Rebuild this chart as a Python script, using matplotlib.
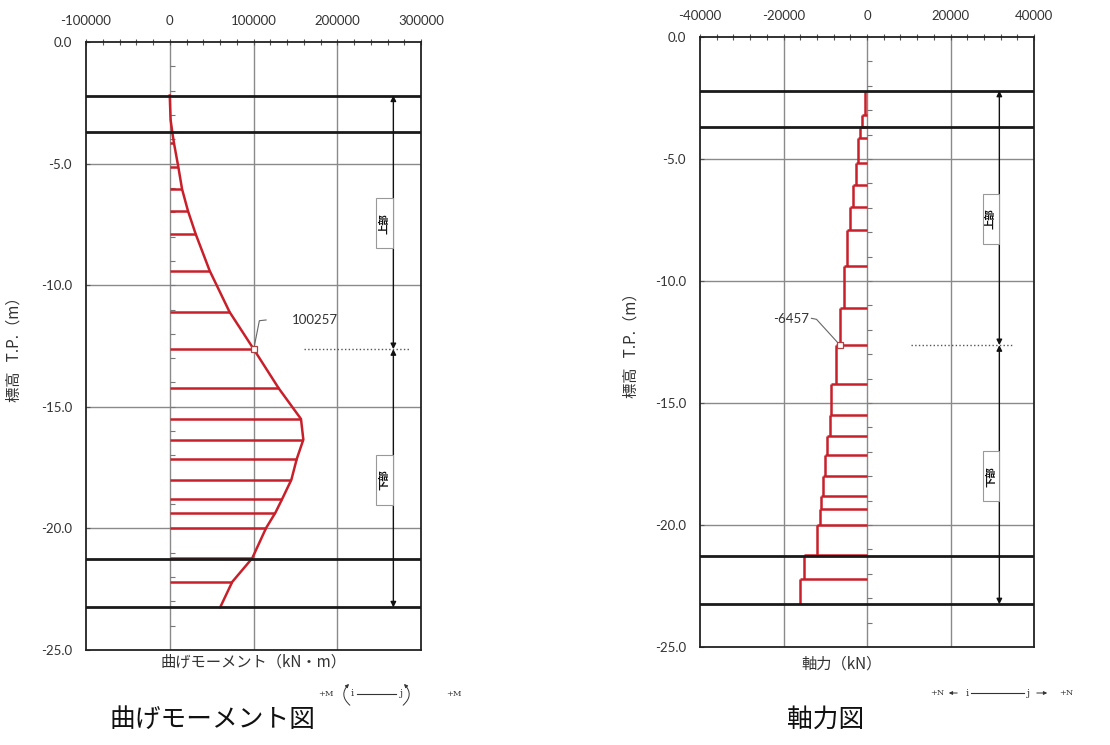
import numpy as np
import matplotlib
matplotlib.use("Agg")
import matplotlib.pyplot as plt
from matplotlib.patches import Rectangle, FancyArrowPatch
from matplotlib.ticker import MultipleLocator, FuncFormatter

plt.rcParams['font.family'] = ['Noto Sans CJK JP', 'DejaVu Sans']

# ---- data -----------------------------------------------------------------
# node elevations T.P. (m)
depth = [-2.2, -3.2, -3.7, -4.15, -5.15, -6.05, -6.95, -7.9, -9.4, -11.1, -12.63,
         -14.24, -15.5, -16.35, -17.15, -18.0, -18.8, -19.35, -19.98, -21.23,
         -22.2, -23.24]
# bending moment at each node (kN·m)
moment = [0, 1000, 3000, 5000, 10300, 14700, 21800, 31000, 47600, 71400, 100257,
          130100, 156700, 159500, 151600, 145200, 134100, 126200, 115100, 98400,
          74600, 60300]
# axial force of each member between consecutive nodes (kN)
axial = [-380, -1100, -1650, -2150, -2540, -3340, -3970, -4780, -5570, -6457,
         -7490, -8520, -8850, -9480, -9950, -10430, -10910, -11240, -11870,
         -15140, -15930]

# layer boundaries (thick lines) and section split
boundaries = [-2.2, -3.7, -21.25, -23.25]
split_level = -12.63
moment_peak_label = 100257
axial_label = -6457

m_ticks = [-100000, 0, 100000, 200000, 300000]
n_ticks = [-40000, -20000, 0, 20000, 40000]
y_ticks = [0.0, -5.0, -10.0, -15.0, -20.0, -25.0]

RED = '#c8202a'
GRID = '#8a8a8a'
TXT = '#333333'
NUM_FONT = ['Lato', 'DejaVu Sans']

fig = plt.figure(figsize=(11.10, 7.45), dpi=100)
W, H = 1110, 745


def px_axes(l, r, t, b):
    return fig.add_axes([l / W, 1 - b / H, (r - l) / W, (b - t) / H])


def style_axes(ax, xticks, minor_step):
    ax.set_xlim(xticks[0], xticks[-1])
    ax.set_ylim(-25, 0)
    ax.set_xticks(xticks)
    ax.set_yticks(y_ticks)
    ax.xaxis.set_minor_locator(MultipleLocator(minor_step))
    ax.xaxis.tick_top()
    ax.tick_params(axis='x', which='both', top=True, bottom=False, direction='inout',
                   length=4, width=0.8, color='#555555', pad=9, labelsize=9.5,
                   labelcolor=TXT)
    ax.tick_params(axis='y', which='both', left=True, direction='in', length=3,
                   width=0.8, color='#555555', pad=10, labelsize=9.5, labelcolor=TXT)
    ax.yaxis.set_major_formatter(FuncFormatter(lambda v, p: f"{v:.1f}"))
    ax.xaxis.set_major_formatter(FuncFormatter(lambda v, p: f"{int(v)}"))
    for lab in ax.get_xticklabels() + ax.get_yticklabels():
        lab.set_family(NUM_FONT)
    for s in ax.spines.values():
        s.set_linewidth(1.3)
        s.set_color('#222222')
    # grid
    for x in xticks[1:-1]:
        ax.axvline(x, color=GRID, lw=1.0, zorder=1)
    for y in y_ticks[1:-1]:
        ax.axhline(y, color=GRID, lw=1.0, zorder=1)
    # metre marks along the zero line
    marks = np.arange(-1, -25, -1)
    ax.plot(np.zeros_like(marks), marks, ls='none', marker=1, ms=3.5,
            color='#777777', mew=0.8, zorder=2)
    for b in boundaries:
        ax.axhline(b, color='#1a1a1a', lw=2.0, zorder=5)
    ax.set_ylabel('標高   T.P.（m）', fontsize=11, color=TXT)


def section_marks(ax, x_dim, box_w, dotted):
    # dimension arrows for upper / lower section
    for y0, y1 in [(boundaries[0], split_level), (split_level, boundaries[-1])]:
        ax.annotate('', xy=(x_dim, y1), xytext=(x_dim, y0),
                    arrowprops=dict(arrowstyle='<|-|>', color='#111111', lw=1.0,
                                    mutation_scale=8, shrinkA=0, shrinkB=0),
                    zorder=6)
    ax.plot(dotted, [split_level, split_level], ls=':', color='#555555', lw=1.0, zorder=6)
    for label, yc in [('上部', -7.45), ('下部', -18.0)]:
        ax.add_patch(Rectangle((x_dim - box_w, yc - 1.03), box_w, 2.06,
                               facecolor='white', edgecolor='#999999', lw=0.8, zorder=7))
        ax.text(x_dim - box_w / 2, yc, label, rotation=90, ha='center', va='center',
                fontsize=7.5, fontweight='bold', color='#111111', zorder=8)


# ---- bending moment diagram ------------------------------------------------
ax1 = px_axes(86, 421, 42, 650)
style_axes(ax1, m_ticks, 20000)
ax1.yaxis.set_label_coords(-0.19, 0.5)
ax1.hlines(depth[1:-1], 0, moment[1:-1], color=RED, lw=1.8, zorder=3)
ax1.plot(moment, depth, color=RED, lw=1.8, zorder=4)
i_split = depth.index(split_level)
ax1.plot([moment[i_split]], [split_level], marker='s', ms=4, mfc='white',
         mec='#b04040', mew=0.9, zorder=9)
ax1.plot([moment[i_split], 107000, 115000], [split_level, -11.46, -11.43],
         color='#666666', lw=0.8, zorder=8)
ax1.text(146000, -11.45, f"{moment_peak_label}", fontsize=9.5, color=TXT,
         va='center', ha='left', family=NUM_FONT)
section_marks(ax1, 267000, 20500, [160000, 286000])
fig.text(253 / W, 1 - 662 / H, '曲げモーメント（kN・m）', ha='center', va='center',
         fontsize=11, color=TXT)

# ---- axial force diagram -----------------------------------------------------
ax2 = px_axes(700, 1034, 37, 647)
style_axes(ax2, n_ticks, 4000)
ax2.yaxis.set_label_coords(-0.18, 0.5)
ax2.vlines(axial, depth[:-1], depth[1:], color=RED, lw=1.8, zorder=4)
ax2.hlines(depth[1:-1], 0, axial[1:], color=RED, lw=1.8, zorder=3)
j = depth.index(split_level) - 1
ax2.plot([axial[j]], [split_level], marker='s', ms=4, mfc='white',
         mec='#b04040', mew=0.9, zorder=9)
ax2.plot([axial[j], -12100, -13300], [split_level, -11.57, -11.53],
         color='#666666', lw=0.8, zorder=8)
ax2.text(-13900, -11.55, f"{axial_label}", fontsize=9.5, color=TXT,
         va='center', ha='right', family=NUM_FONT)
section_marks(ax2, 31700, 4000, [10600, 35300])
fig.text(842 / W, 1 - 664 / H, '軸力（kN）', ha='center', va='center',
         fontsize=11, color=TXT)

# ---- titles -----------------------------------------------------------------
fig.text(212 / W, 1 - 720 / H, '曲げモーメント図', ha='center', va='center',
         fontsize=18.5, color='#111111')
fig.text(826 / W, 1 - 720 / H, '軸力図', ha='center', va='center',
         fontsize=18.5, color='#111111')

# ---- sign conventions ----------------------------------------------------
SERIF = ['DejaVu Serif']
yc = 1 - 694 / H
fig.text(326 / W, yc, '+M', ha='center', va='center', fontsize=6, family=SERIF, color=TXT)
fig.text(454 / W, yc, '+M', ha='center', va='center', fontsize=6, family=SERIF, color=TXT)
fig.text(352 / W, yc, 'i', ha='center', va='center', fontsize=7, family=SERIF, color=TXT)
fig.text(401 / W, yc, 'j', ha='center', va='center', fontsize=7, family=SERIF, color=TXT)
fig.add_artist(plt.Line2D([357 / W, 396 / W], [yc, yc], color=TXT, lw=0.8))
fig.add_artist(FancyArrowPatch((352 / W, 1 - 707 / H), (351 / W, 1 - 682 / H),
                               transform=fig.transFigure, connectionstyle='arc3,rad=-0.6',
                               arrowstyle='-|>', mutation_scale=5, lw=0.7, color=TXT))
fig.add_artist(FancyArrowPatch((401 / W, 1 - 707 / H), (402 / W, 1 - 682 / H),
                               transform=fig.transFigure, connectionstyle='arc3,rad=0.6',
                               arrowstyle='-|>', mutation_scale=5, lw=0.7, color=TXT))

yn = 1 - 693 / H
fig.text(937 / W, yn, '+N', ha='center', va='center', fontsize=6, family=SERIF, color=TXT)
fig.text(1066 / W, yn, '+N', ha='center', va='center', fontsize=6, family=SERIF, color=TXT)
fig.text(967 / W, yn, 'i', ha='center', va='center', fontsize=7, family=SERIF, color=TXT)
fig.text(1028 / W, yn, 'j', ha='center', va='center', fontsize=7, family=SERIF, color=TXT)
fig.add_artist(plt.Line2D([971 / W, 1024 / W], [yn, yn], color=TXT, lw=0.8))
fig.add_artist(FancyArrowPatch((960 / W, yn), (946 / W, yn), transform=fig.transFigure,
                               arrowstyle='-|>', mutation_scale=5, lw=0.7, color=TXT))
fig.add_artist(FancyArrowPatch((1034 / W, yn), (1050 / W, yn), transform=fig.transFigure,
                               arrowstyle='-|>', mutation_scale=5, lw=0.7, color=TXT))

fig.savefig('out.png', dpi=100, facecolor='white')
